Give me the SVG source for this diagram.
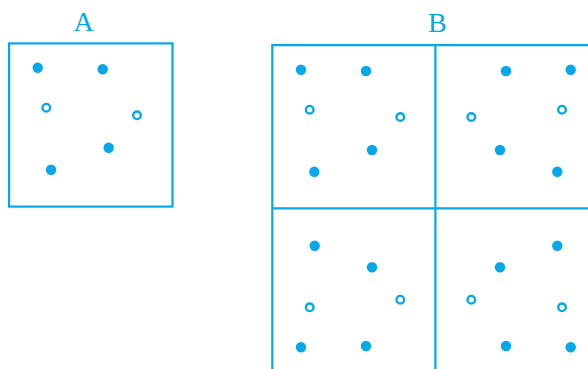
<svg xmlns="http://www.w3.org/2000/svg" width="588" height="369" viewBox="0 0 588 369">
<style>
.box{fill:none;stroke:#05a8e8;stroke-width:2.2}
.f{fill:#05a8e8}
.o{fill:#fff;stroke:#05a8e8;stroke-width:2.4}
.lbl{font-family:"Liberation Serif",serif;font-size:28px;fill:#05a8e8;text-anchor:middle}
</style>
<rect width="588" height="369" fill="#fff"/>
<g id="A">
<text class="lbl" x="83.5" y="31">A</text>
<rect class="box" x="9.1" y="43.4" width="163.4" height="163.2"/>
<circle class="f" cx="37.7" cy="67.7" r="5.2"/>
<circle class="f" cx="102.7" cy="69.3" r="5.2"/>
<circle class="o" cx="46.3" cy="107.7" r="3.8"/>
<circle class="o" cx="137" cy="115.3" r="3.8"/>
<circle class="f" cx="108.7" cy="147.7" r="5.2"/>
<circle class="f" cx="51" cy="169.7" r="5.2"/>
</g>
<g id="B">
<text class="lbl" x="437.3" y="31.5">B</text>
<path class="box" d="M272.3,370V45.1H590M435.4,45.1V370M272.3,208.3H590"/>
<circle class="f" cx="301" cy="69.7" r="5.2"/>
<circle class="f" cx="366" cy="71" r="5.2"/>
<circle class="o" cx="309.7" cy="109.7" r="3.8"/>
<circle class="o" cx="400.3" cy="117" r="3.8"/>
<circle class="f" cx="372" cy="150" r="5.2"/>
<circle class="f" cx="314.3" cy="171.7" r="5.2"/>
<circle class="f" cx="506" cy="71" r="5.2"/>
<circle class="f" cx="570.7" cy="69.7" r="5.2"/>
<circle class="o" cx="562" cy="109.7" r="3.8"/>
<circle class="o" cx="471.3" cy="117" r="3.8"/>
<circle class="f" cx="500" cy="150" r="5.2"/>
<circle class="f" cx="557.3" cy="171.7" r="5.2"/>
<circle class="f" cx="314.7" cy="245.7" r="5.2"/>
<circle class="f" cx="372" cy="267.3" r="5.2"/>
<circle class="o" cx="309.7" cy="307.3" r="3.8"/>
<circle class="o" cx="400.3" cy="299.7" r="3.8"/>
<circle class="f" cx="301" cy="347.3" r="5.2"/>
<circle class="f" cx="366" cy="346" r="5.2"/>
<circle class="f" cx="557.3" cy="245.7" r="5.2"/>
<circle class="f" cx="500" cy="267.3" r="5.2"/>
<circle class="o" cx="471.3" cy="299.7" r="3.8"/>
<circle class="o" cx="562" cy="307.3" r="3.8"/>
<circle class="f" cx="506" cy="346" r="5.2"/>
<circle class="f" cx="570.7" cy="347.3" r="5.2"/>
</g>
</svg>
